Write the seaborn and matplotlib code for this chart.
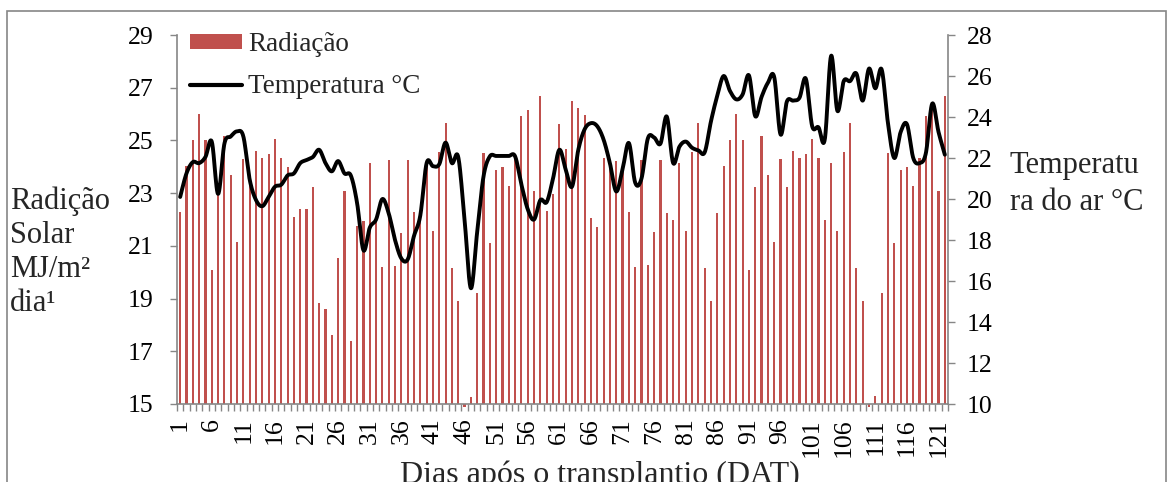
import numpy as np
import pandas as pd
import matplotlib
matplotlib.use("Agg")
import matplotlib.pyplot as plt
import seaborn as sns
from matplotlib.lines import Line2D
from matplotlib.patches import Patch, Rectangle

# ---- data -------------------------------------------------------------
dias = list(range(1, 123))

radiacao = [
    22.27, 24.02, 25.02, 26.01, 25.02, 20.10, 23.05, 25.16, 23.70, 21.16,
    24.30, 23.40, 24.58, 24.34, 24.49, 25.05, 24.35, 24.01, 22.10, 22.39,
    22.38, 23.25, 18.82, 18.59, 17.60, 20.54, 23.10, 17.40, 21.75, 21.96,
    24.15, 22.00, 20.20, 24.25, 20.25, 21.50, 24.25, 22.27, 21.97, 24.15,
    21.56, 24.56, 25.67, 20.15, 18.89, 14.90, 15.25, 19.20, 24.52, 21.09,
    23.89, 23.99, 23.26, 24.35, 25.92, 26.16, 23.10, 26.70, 22.32, 22.95,
    25.64, 24.67, 26.48, 26.23, 25.98, 22.06, 21.72, 24.35, 24.15, 24.21,
    23.92, 22.28, 20.21, 24.26, 20.27, 21.51, 24.26, 22.26, 22.00, 24.16,
    21.56, 24.55, 25.67, 20.15, 18.90, 22.26, 24.02, 25.02, 26.01, 25.02,
    20.10, 23.24, 25.16, 23.70, 21.16, 24.30, 23.24, 24.58, 24.34, 24.49,
    25.05, 24.35, 21.98, 24.16, 21.55, 24.55, 25.67, 20.15, 18.89, 14.90,
    15.30, 19.20, 24.52, 21.09, 23.89, 23.99, 23.26, 24.35, 25.92, 26.16,
    23.10, 26.70,
]

temperatura = [
    20.10, 21.25, 21.80, 21.75, 22.05, 22.80, 20.25, 22.70, 23.05, 23.30,
    23.05, 20.95, 19.95, 19.65, 20.10, 20.60, 20.70, 21.15, 21.25, 21.75,
    21.90, 22.05, 22.40, 21.75, 21.35, 21.85, 21.25, 21.15, 19.80, 17.50,
    18.60, 19.00, 20.00, 19.30, 18.00, 17.10, 17.05, 18.20, 19.20, 21.75,
    21.60, 21.70, 22.75, 21.75, 22.05, 19.00, 15.65, 18.40, 21.10, 22.08,
    22.10, 22.10, 22.10, 22.08, 20.70, 19.50, 19.00, 19.95, 19.85, 21.00,
    22.40, 21.45, 20.60, 22.40, 23.40, 23.70, 23.55, 22.90, 21.75, 20.37,
    21.44, 22.73, 20.80, 21.00, 22.95, 23.00, 22.70, 24.02, 21.76, 22.55,
    22.80, 22.50, 22.37, 22.28, 23.80, 25.05, 26.00, 25.27, 24.86, 25.10,
    26.03, 24.04, 24.98, 25.67, 25.95, 23.15, 24.75, 24.80, 24.94, 25.87,
    23.56, 23.50, 22.90, 26.98, 24.30, 25.75, 25.75, 26.12, 24.80, 26.36,
    25.40, 26.32, 23.70, 22.00, 23.26, 23.65, 22.00, 21.75, 22.24, 24.65,
    23.27, 22.16,
]

rad_ticks = list(range(15, 30, 2))
temp_ticks = list(range(10, 29, 2))
dia_labels = [str(d) for d in dias[::5]]

BAR_RED = "#C0504D"
AXIS_GREY = "#868686"


def smooth_curve(xv, yv, n=24):
    """Bezier smoothing through every point (Catmull-Rom style)."""
    pts = np.column_stack([xv, yv]).astype(float)
    ext = np.vstack([pts[0], pts, pts[-1]])
    t = np.linspace(0, 1, n, endpoint=False)[:, None]
    segs = []
    for i in range(len(pts) - 1):
        p0, p1, p2, p3 = ext[i], ext[i + 1], ext[i + 2], ext[i + 3]
        b1 = p1 + (p2 - p0) / 6.0
        b2 = p2 - (p3 - p1) / 6.0
        segs.append((1 - t) ** 3 * p1 + 3 * (1 - t) ** 2 * t * b1
                    + 3 * (1 - t) * t ** 2 * b2 + t ** 3 * p2)
    segs.append(pts[-1][None, :])
    return np.vstack(segs)


# ---- style ------------------------------------------------------------
sns.set_theme(style="white")
plt.rcParams["font.family"] = ["Liberation Serif", "DejaVu Serif"]
FS_TICK = 18.5
FS_TITLE = 22
FS_LEG = 19.5

W, H = 1168, 482
fig = plt.figure(figsize=(W / 100, H / 100), dpi=100)
L, R, T, B = 177, 948, 35, 404
ax = fig.add_axes([L / W, 1 - B / H, (R - L) / W, (B - T) / H])

# ---- bars (radiation) -------------------------------------------------
df = pd.DataFrame({"dia": dias, "radiacao": radiacao})
sns.barplot(data=df, x="dia", y="radiacao", color=BAR_RED, width=0.34,
            errorbar=None, saturation=1, ax=ax, zorder=2)
# bars grow from the horizontal axis at 15
for patch, v in zip(ax.patches, radiacao):
    patch.set_y(15)
    patch.set_height(v - 15)
    patch.set_linewidth(0)
    if v < 15:
        patch.set_clip_on(False)

ax.set_xlim(-0.5, len(dias) - 0.5)
ax.set_ylim(15, 29)
ax.set_yticks(rad_ticks)
ax.set_yticklabels([str(v) for v in rad_ticks], fontsize=FS_TICK)
ax.set_xticks(range(0, len(dias), 5))
ax.set_xticklabels(dia_labels, rotation=90, fontsize=FS_TICK)
ax.set_xticks(np.arange(-0.5, len(dias), 1.0), minor=True)
ax.tick_params(axis="x", which="major", length=0, pad=10, colors="black")
ax.tick_params(axis="x", which="minor", length=5, width=1, color=AXIS_GREY,
               direction="out", bottom=True)
ax.tick_params(axis="y", which="major", length=5, width=1, color=AXIS_GREY,
               direction="out", pad=12, labelcolor="black", left=True)
for side in ("left", "bottom"):
    ax.spines[side].set_color(AXIS_GREY)
    ax.spines[side].set_linewidth(1.2)
ax.spines["top"].set_visible(False)
ax.spines["right"].set_visible(False)

ax.set_xlabel("Dias após o transplantio (DAT)", fontsize=23)
ax.xaxis.set_label_coords((600 - L) / (R - L), (B - 460) / (B - T))
ax.xaxis.label.set_va("top")

ax.set_ylabel("Radição\nSolar\nMJ/m²\ndia¹", rotation=0, fontsize=FS_TITLE,
              ha="left", va="center", multialignment="left", linespacing=1.22)
ax.yaxis.set_label_coords((10 - L) / (R - L), (B - 252) / (B - T))

# ---- line (temperature) -----------------------------------------------
ax2 = ax.twinx()
curve = smooth_curve(np.arange(len(dias)), temperatura)
sns.lineplot(x=curve[:, 0], y=curve[:, 1], sort=False, estimator=None,
             color="black", linewidth=2.8, ax=ax2)
ax2.set_ylim(10, 28)
ax2.set_yticks(temp_ticks)
ax2.set_yticklabels([str(v) for v in temp_ticks], fontsize=FS_TICK)
ax2.tick_params(axis="y", length=5, width=1, color=AXIS_GREY,
                direction="out", pad=8.5, labelcolor="black", right=True)
for side in ("left", "top", "bottom"):
    ax2.spines[side].set_visible(False)
ax2.spines["right"].set_color(AXIS_GREY)
ax2.spines["right"].set_linewidth(1.2)
ax2.set_ylabel("Temperatu\nra do ar °C", rotation=0, fontsize=FS_TITLE,
               ha="left", va="center", multialignment="left", linespacing=1.4)
ax2.yaxis.set_label_coords((1010 - L) / (R - L), (B - 184) / (B - T))

# ---- legend -----------------------------------------------------------
handles = [Patch(facecolor=BAR_RED, edgecolor="none"),
           Line2D([], [], color="black", linewidth=3)]
ax2.legend(handles, ["Radiação", "Temperatura °C"], loc="upper left",
           bbox_to_anchor=((190 - L) / (R - L), 1.008), frameon=False,
           fontsize=FS_LEG, borderpad=0, borderaxespad=0, handlelength=1.92,
           handleheight=0.48, handletextpad=0.22, labelspacing=0.64)

# chart-area border
fig.add_artist(Rectangle((7 / W, -0.05), (1166 - 7) / W, 1.05 - 11 / H,
                         transform=fig.transFigure, fill=False,
                         edgecolor=AXIS_GREY, linewidth=1.2))

fig.savefig("out.png", dpi=100)
